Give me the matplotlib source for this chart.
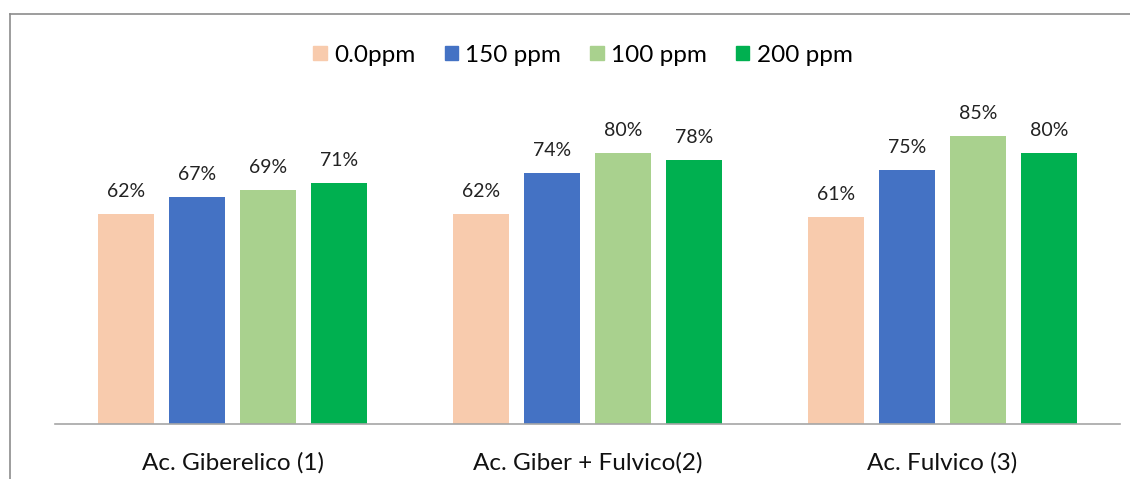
import numpy as np
import matplotlib
matplotlib.use("Agg")
import matplotlib.pyplot as plt
from matplotlib.lines import Line2D

plt.rcParams['font.family'] = ['Lato', 'DejaVu Sans']

categories = ["Ac. Giberelico (1)", "Ac. Giber + Fulvico(2)", "Ac. Fulvico (3)"]
series_names = ["0.0ppm", "150 ppm", "100 ppm", "200 ppm"]
s_0ppm = [0.62, 0.62, 0.61]
s_150ppm = [0.67, 0.74, 0.75]
s_100ppm = [0.69, 0.80, 0.85]
s_200ppm = [0.71, 0.78, 0.80]
colors = ['#F8CBAD', '#4472C4', '#A9D18E', '#00B050']

series = [s_0ppm, s_150ppm, s_100ppm, s_200ppm]

fig = plt.figure(figsize=(11.3, 4.79), dpi=100, facecolor='white')
ax = fig.add_axes([55 / 1130, 55 / 479, 1065 / 1130, 339 / 479])

x = np.arange(len(categories))
width = 0.16
offsets = [-0.3, -0.1, 0.1, 0.3]

for vals, name, col, off in zip(series, series_names, colors, offsets):
    bars = ax.bar(x + off, vals, width=width, color=col, label=name)
    for b, v in zip(bars, vals):
        ax.annotate(f"{v:.0%}", (b.get_x() + b.get_width() / 2, v),
                    xytext=(0, 10), textcoords='offset points',
                    ha='center', va='bottom', fontsize=14, color='#222222')

ax.set_xlim(-0.5, len(categories) - 0.5)
ax.set_ylim(0, 1.0)
ax.set_xticks(x)
ax.set_xticklabels(categories, fontsize=17.5, color='#111111')
ax.tick_params(axis='x', length=0, pad=20)
ax.set_yticks([])

for s in ['top', 'right', 'left']:
    ax.spines[s].set_visible(False)
ax.spines['bottom'].set_color('#A6A6A6')
ax.spines['bottom'].set_linewidth(1.2)

handles = [plt.Rectangle((0, 0), 1, 1, color=c) for c in colors]
fig.legend(handles, series_names, loc='center', bbox_to_anchor=(583 / 1130, 1 - 55 / 479),
           ncol=4, frameon=False, fontsize=17.5, handlelength=0.55, handleheight=0.55,
           handletextpad=0.3, columnspacing=1.2, borderpad=0)

# chart frame (only top and left edges visible in the crop)
fig.add_artist(Line2D([10 / 1130, 10 / 1130], [0, 1 - 14 / 479], transform=fig.transFigure,
                      color='#8C8C8C', linewidth=1.2))
fig.add_artist(Line2D([10 / 1130, 1], [1 - 14 / 479, 1 - 14 / 479], transform=fig.transFigure,
                      color='#8C8C8C', linewidth=1.2))

fig.savefig("out.png", dpi=100, facecolor='white')
